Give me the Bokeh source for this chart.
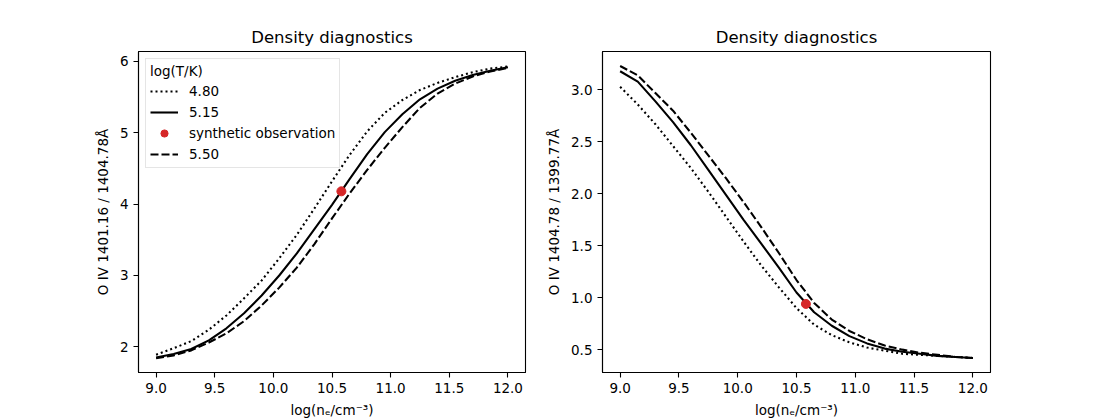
from bokeh.plotting import figure
from bokeh.layouts import row
from bokeh.models import Range1d, FixedTicker, PrintfTickFormatter, Legend, LegendItem
from bokeh.embed import file_html
from bokeh.resources import INLINE

# log electron density grid (cm^-3)
log_ne = [9.0, 9.15, 9.3, 9.45, 9.6, 9.75, 9.9, 10.05, 10.2, 10.35, 10.5,
          10.65, 10.8, 10.95, 11.1, 11.25, 11.4, 11.55, 11.7, 11.85, 12.0]

# temperatures, log(T/K)
log_t_labels = ["4.80", "5.15", "5.50"]

# O IV 1401.16 / 1404.78 ratio at each temperature
ratio_a_t480 = [1.89, 1.98, 2.08, 2.24, 2.44, 2.68, 2.93, 3.24, 3.57, 3.94, 4.32,
                4.69, 5.02, 5.28, 5.46, 5.60, 5.70, 5.78, 5.85, 5.90, 5.93]
ratio_a_t515 = [1.85, 1.90, 1.97, 2.09, 2.26, 2.47, 2.72, 3.00, 3.31, 3.65, 3.99,
                4.35, 4.70, 5.01, 5.26, 5.47, 5.62, 5.73, 5.81, 5.87, 5.92]
ratio_a_t550 = [1.84, 1.88, 1.95, 2.06, 2.19, 2.36, 2.58, 2.83, 3.11, 3.44, 3.80,
                4.15, 4.48, 4.79, 5.08, 5.35, 5.55, 5.69, 5.79, 5.86, 5.91]

# O IV 1404.78 / 1399.77 ratio at each temperature
ratio_b_t480 = [3.03, 2.86, 2.67, 2.46, 2.25, 2.02, 1.78, 1.54, 1.31, 1.10, 0.90,
                0.74, 0.64, 0.57, 0.52, 0.49, 0.46, 0.45, 0.44, 0.43, 0.42]
ratio_b_t515 = [3.18, 3.08, 2.89, 2.69, 2.47, 2.23, 1.99, 1.75, 1.52, 1.29, 1.05,
                0.86, 0.73, 0.63, 0.56, 0.51, 0.48, 0.46, 0.44, 0.43, 0.42]
ratio_b_t550 = [3.23, 3.14, 2.97, 2.80, 2.59, 2.37, 2.15, 1.92, 1.68, 1.43, 1.17,
                0.95, 0.79, 0.68, 0.60, 0.54, 0.50, 0.47, 0.45, 0.43, 0.42]

# synthetic observation
obs_log_ne = 10.58
obs_ratio_a = 4.18
obs_ratio_b = 0.94

x_ticks = [9.0, 9.5, 10.0, 10.5, 11.0, 11.5, 12.0]
ya_ticks = [2, 3, 4, 5, 6]
yb_ticks = [0.5, 1.0, 1.5, 2.0, 2.5, 3.0]

FONT = "DejaVu Sans"
LW = 2.08
RED = "#d62728"
DASHES = ["2 3", None, "8 3"]


def panel(curves, obs_y, y_range, y_ticks, y_fmt, y_label, width, border_l, border_r, with_legend):
    p = figure(width=width, height=420, output_backend="svg", toolbar_location=None,
               x_range=Range1d(8.85, 12.15), y_range=Range1d(*y_range),
               min_border_left=border_l, min_border_right=border_r,
               min_border_top=51, min_border_bottom=47,
               title="Density diagnostics")
    p.background_fill_color = "white"
    p.border_fill_color = "white"
    p.outline_line_color = "black"
    p.outline_line_width = 1.1
    p.grid.visible = False

    p.title.text_font = FONT
    p.title.text_font_size = "16.5px"
    p.title.text_font_style = "normal"
    p.title.align = "center"
    p.title.text_color = "black"

    for ax in (p.xaxis[0], p.yaxis[0]):
        ax.major_tick_in = 0
        ax.major_tick_out = 5
        ax.minor_tick_in = 0
        ax.minor_tick_out = 0
        ax.axis_line_width = 1.1
        ax.major_tick_line_width = 1.1
        ax.major_label_text_font = FONT
        ax.major_label_text_font_size = "13.5px"
        ax.major_label_text_color = "black"
        ax.major_label_standoff = 5
        ax.axis_label_text_font = FONT
        ax.axis_label_text_font_size = "13.5px"
        ax.axis_label_text_font_style = "normal"
        ax.axis_label_text_color = "black"
        ax.axis_label_standoff = 6

    p.xaxis.ticker = FixedTicker(ticks=x_ticks)
    p.xaxis.formatter = PrintfTickFormatter(format="%.1f")
    p.xaxis.axis_label = "log(nₑ/cm⁻³)"
    p.yaxis.ticker = FixedTicker(ticks=y_ticks)
    p.yaxis.formatter = PrintfTickFormatter(format=y_fmt)
    p.yaxis.axis_label = y_label

    renderers = []
    for ys, dash in zip(curves, DASHES):
        kw = dict(line_color="black", line_width=LW)
        if dash:
            kw["line_dash"] = dash
        renderers.append(p.line(log_ne, ys, **kw))
    dot = p.scatter([obs_log_ne], [obs_y], size=9, fill_color=RED, line_color=RED)

    if with_legend:
        items = [
            LegendItem(label=log_t_labels[0], renderers=[renderers[0]]),
            LegendItem(label=log_t_labels[1], renderers=[renderers[1]]),
            LegendItem(label="synthetic observation", renderers=[dot]),
            LegendItem(label=log_t_labels[2], renderers=[renderers[2]]),
        ]
        leg = Legend(items=items, location="top_left", title="log(T/K)")
        leg.title_text_font = FONT
        leg.title_text_font_size = "13.5px"
        leg.title_text_font_style = "normal"
        leg.title_text_color = "black"
        leg.title_standoff = 3
        leg.label_text_font = FONT
        leg.label_text_font_size = "13.5px"
        leg.label_text_color = "black"
        leg.label_height = 18
        leg.glyph_height = 18
        leg.glyph_width = 28
        leg.label_standoff = 11
        leg.spacing = 3
        leg.padding = 4
        leg.margin = 7
        leg.border_line_color = "#cccccc"
        leg.background_fill_alpha = 0.8
        p.add_layout(leg)
    return p


left = panel([ratio_a_t480, ratio_a_t515, ratio_a_t550], obs_ratio_a,
             (1.64, 6.14), ya_ticks, "%d", "O IV 1401.16 / 1404.78Å",
             540, 138, 15, True)
right = panel([ratio_b_t480, ratio_b_t515, ratio_b_t550], obs_ratio_b,
              (0.28, 3.37), yb_ticks, "%.1f", "O IV 1404.78 / 1399.77Å",
              560, 62, 110, False)

layout = row(left, right)
open("out.html", "w").write(file_html(layout, INLINE))
